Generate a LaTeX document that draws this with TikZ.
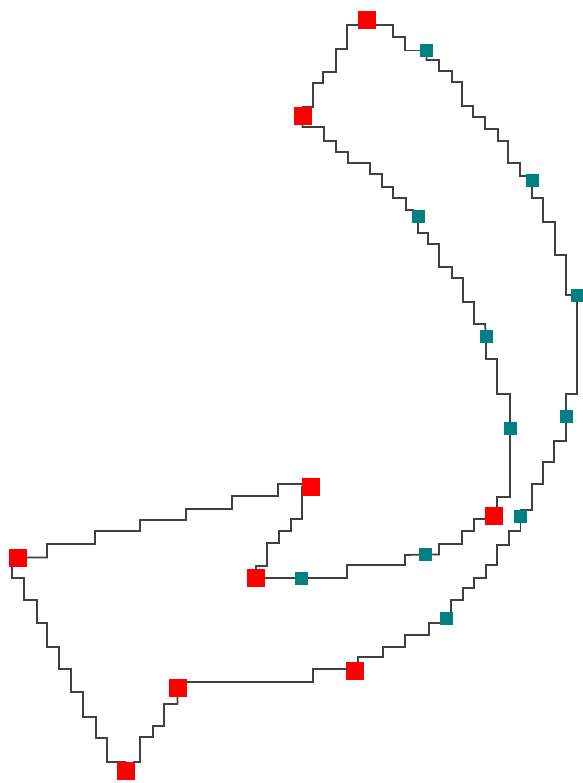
\documentclass[tikz,border=0pt]{standalone}
\usetikzlibrary{backgrounds}
\begin{document}
\begin{tikzpicture}[x=1pt,y=-1pt,
  redsq/.style={rectangle,fill=red,minimum size=18pt,inner sep=0pt,outer sep=0pt},
  tealsq/.style={rectangle,fill=teal,minimum size=13pt,inner sep=0pt,outer sep=0pt},
  stairline/.style={draw=black!75,line width=1.8pt,line join=miter}]
\useasboundingbox (0,0) rectangle (582,783);
% red control points
\node[redsq] (R1) at (367,20) {};
\node[redsq] (R2) at (302.5,116.5) {};
\node[redsq] (R3) at (493.5,515.5) {};
\node[redsq] (R4) at (311,487) {};
\node[redsq] (R5) at (256,578) {};
\node[redsq] (R6) at (17.5,557.5) {};
\node[redsq] (R7) at (125.5,771) {};
\node[redsq] (R8) at (177.5,688) {};
\node[redsq] (R9) at (354.5,671) {};
% teal points
\node[tealsq] (T1) at (426.5,50.5) {};
\node[tealsq] (T2) at (532,181) {};
\node[tealsq] (T3) at (577,295) {};
\node[tealsq] (T4) at (566,416.5) {};
\node[tealsq] (T5) at (520.5,516.5) {};
\node[tealsq] (T6) at (446.5,618) {};
\node[tealsq] (T7) at (418,216.5) {};
\node[tealsq] (T8) at (486,336) {};
\node[tealsq] (T9) at (510,428) {};
\node[tealsq] (T10) at (425,554.5) {};
\node[tealsq] (T11) at (301,578) {};
\begin{scope}[on background layer]
% R1 -> T1
\draw[stairline] (R1.center) |- (393,25) |- (405,37) |- (T1.center);
% T1 -> T2
\draw[stairline] (T1.center) |- (439,60) |- (452,71) |- (462,82) |- (473,106)
  |- (485,117) |- (498,129) |- (508,141) |- (520,163) |- (527,176) -- (T2.center);
% T2 -> T3
\draw[stairline] (T2.center) |- (543,198) |- (555,222) |- (566,255) |- (T3.center);
% T3 -> T4
\draw[stairline] (T3.center) |- (566,394) -- (T4.center);
% T4 -> T5
\draw[stairline] (T4.center) |- (554,441) |- (543,462) |- (532,484) |- (521,510) -- (T5.center);
% T5 -> T6
\draw[stairline] (T5.center) |- (509,531) |- (497,545) |- (486,565) |- (474,578)
  |- (463,588) |- (451,600) |- (T6.center);
% T6 -> R9
\draw[stairline] (T6.center) |- (429,623) |- (405,635) |- (383,647) |- (358,657) |- (R9.center);
% R9 -> R8
\draw[stairline] (R9.center) |- (313,669) |- (186,682) -- (R8.center);
% R8 -> R7
\draw[stairline] (R8.center) |- (164,704) |- (153,726) |- (140,737) |- (134,762) -- (R7.center);
% R7 -> R6
\draw[stairline] (R7.center) |- (107,762) |- (96,738) |- (83,717) |- (71,692) |- (59,669)
  |- (47,647) |- (37,623) |- (24,600) |- (12,578) |- (R6.center);
% R6 -> R4
\draw[stairline] (R6.center) -| (47,544) -| (95,531) -| (140,520) -| (186,509)
  -| (232,496) -| (278,484) -- (302,484) -- (R4.center);
% R4 -> R5
\draw[stairline] (R4.center) -| (302,519) -| (291,531) -| (279,543) -| (267,566) -| (R5.center);
% R5 -> T11
\draw[stairline] (R5.center) -- (T11.center);
% T11 -> T10
\draw[stairline] (T11.center) -| (347,565) -| (405,555) -- (T10.center);
% T10 -> R3
\draw[stairline] (T10.center) -| (439,544) -| (462,531) -| (474,519) -- (486,519) -- (R3.center);
% R3 -> T9
\draw[stairline] (R3.center) -| (497,497) -| (T9.center);
% T9 -> T8
\draw[stairline] (T9.center) |- (497,394) |- (486,359) -- (T8.center);
% T7 -> T8
\draw[stairline] (T7.center) |- (428,233) |- (439,244) |- (452,267) |- (463,278)
  |- (474,302) |- (485,324) -- (T8.center);
% R2 -> T7
\draw[stairline] (R2.center) |- (324,127) |- (336,141) |- (348,152) |- (370,163)
  |- (382,174) |- (393,187) |- (406,198) |- (413,210) -- (T7.center);
% R2 -> R1
\draw[stairline] (R2.center) |- (313,107) |- (323,83) |- (336,72) |- (347,49) |- (358,25) -- (R1.center);
\end{scope}
\end{tikzpicture}
\end{document}
